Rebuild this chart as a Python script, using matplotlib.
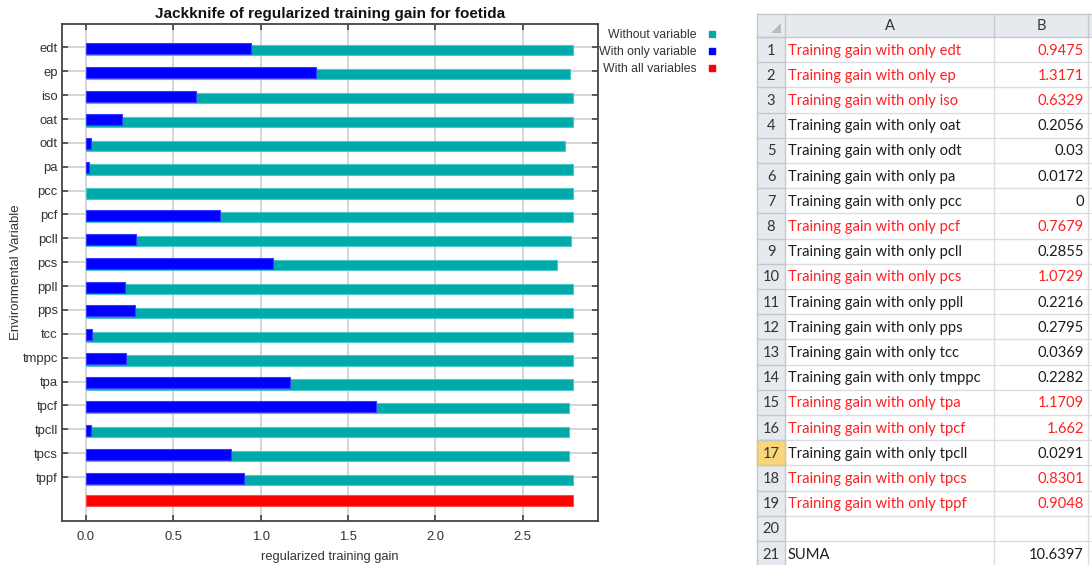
import matplotlib
matplotlib.use("Agg")
import matplotlib.pyplot as plt
from matplotlib.lines import Line2D
from matplotlib.patches import Rectangle, Polygon
import numpy as np

# data
variables = ["edt", "ep", "iso", "oat", "odt", "pa", "pcc", "pcf", "pcll", "pcs",
             "ppll", "pps", "tcc", "tmppc", "tpa", "tpcf", "tpcll", "tpcs", "tppf"]
with_only = [0.9475, 1.3171, 0.6329, 0.2056, 0.03, 0.0172, 0, 0.7679, 0.2855, 1.0729,
             0.2216, 0.2795, 0.0369, 0.2282, 1.1709, 1.662, 0.0291, 0.8301, 0.9048]
without = [2.786, 2.774, 2.786, 2.786, 2.744, 2.786, 2.786, 2.786, 2.780, 2.698,
           2.786, 2.786, 2.786, 2.786, 2.787, 2.765, 2.765, 2.765, 2.787]
all_vars = 2.787
xticks = [0.0, 0.5, 1.0, 1.5, 2.0, 2.5]

TEAL = "#00aaaa"
BLUE = "#0000ff"
RED = "#ff0000"

W, H = 1092, 565
fig = plt.figure(figsize=(W / 100, H / 100), dpi=100)

# ---------- jackknife chart ----------
ax = fig.add_axes([62 / W, 1 - 521 / H, (598 - 62) / W, (521 - 24) / H])
ypos = np.arange(len(variables))
ax.barh(ypos + 0.12, without, height=0.43, color=TEAL, edgecolor="#4cc8c8", lw=0.8, zorder=2)
ax.barh(ypos + 0.04, with_only, height=0.46, color=BLUE, edgecolor="#3a3aff",
        lw=[0.8 if v > 0 else 0 for v in with_only], zorder=3)
ax.barh([len(variables) - 0.01], [all_vars], height=0.45, color=RED, edgecolor="#ff4a4a", lw=0.8, zorder=2)

ax.set_xlim(-0.137, 2.932)
ax.set_ylim(19.84, -0.98)
ax.set_yticks(ypos)
ax.set_yticklabels(variables)
ax.set_xticks(xticks)
ax.set_xticklabels([f"{t:.1f}" for t in xticks])
ax.set_axisbelow(True)
ax.grid(True, color="#d2d2d2", lw=1.3)
ax.tick_params(direction="in", length=4, width=1.2, top=True, right=True,
               labelsize=9.4, labelcolor="#333333", color="#444444")
ax.tick_params(axis="y", pad=3)
ax.tick_params(axis="x", pad=7)
for s in ax.spines.values():
    s.set_color("#444444")
    s.set_linewidth(1.3)
ax.set_title("Jackknife of regularized training gain for foetida", fontsize=11,
             fontweight="bold", color="#111111", pad=4, family="Liberation Sans")
ax.set_xlabel("regularized training gain", fontsize=9.3, color="#333333", labelpad=6)
ax.set_ylabel("Environmental Variable", fontsize=9.5, color="#333333", labelpad=0)
for lab in ax.get_xticklabels() + ax.get_yticklabels():
    lab.set_family("Liberation Sans")
ax.xaxis.label.set_family("Liberation Sans")
ax.yaxis.label.set_family("Liberation Sans")

handles = [Line2D([], [], ls="", marker="s", ms=4.5, color=c, label=l)
           for c, l in [(TEAL, "Without variable"), (BLUE, "With only variable"),
                        (RED, "With all variables")]]
fig.legend(handles=handles, loc="upper right", bbox_to_anchor=(716 / W, 1 - 29 / H),
           markerfirst=False, frameon=False, handlelength=0.6, handletextpad=1.0,
           labelspacing=0.4, prop={"family": "Liberation Sans", "size": 8.8},
           labelcolor="#333333", borderaxespad=0, borderpad=0)

# ---------- spreadsheet ----------
axt = fig.add_axes([0, 0, 1, 1], zorder=-1)
axt.set_xlim(0, W)
axt.set_ylim(H, 0)
axt.axis("off")

x_num, x_a, x_b, x_c = 757, 785, 994, 1088
y_head, y_row1, row_h = 14, 37, 25.2
head_fill = "#e6e9ee"
head_line = "#c3c8cf"
grid_line = "#dadcdd"
sheet_font = "Lato"
sheet_size = 10.6

labels = [f"Training gain with only {v}" for v in variables] + ["", "SUMA"]
values = [f"{v:g}" for v in with_only] + ["", f"{sum(with_only):g}"]
colors = ["#ff1f1f" if v > 0.5 else "#1c1c1c" for v in with_only] + ["#1c1c1c", "#1c1c1c"]
n_rows = len(labels)
y_bottom = H + 5

# header row + row number column
axt.add_patch(Rectangle((x_num, y_head), W - x_num, y_row1 - y_head, fc=head_fill, ec="none"))
axt.add_patch(Rectangle((x_num, y_row1), x_a - x_num, y_bottom - y_row1, fc=head_fill, ec="none"))
axt.add_patch(Polygon([[x_a - 4, y_row1 - 14], [x_a - 4, y_row1 - 4], [x_a - 14, y_row1 - 4]],
                      closed=True, fc="#b8bcc2", ec="none"))
for i in range(n_rows):
    top = y_row1 + i * row_h
    if i == 16:
        axt.add_patch(Rectangle((x_num, top), x_a - x_num, row_h, fc="#f9d67a", ec="#f0b445", lw=1))
    axt.plot([x_num, x_a], [top, top], color=head_line, lw=1)
    axt.plot([x_a, W], [top + row_h, top + row_h], color=grid_line, lw=1)
    axt.text((x_num + x_a) / 2, top + row_h / 2 + 1, str(i + 1), ha="center", va="center",
             fontsize=sheet_size, color="#333333", family=sheet_font)
    axt.text(x_a + 3, top + row_h / 2 + 1, labels[i], ha="left", va="center",
             fontsize=sheet_size, color=colors[i], family=sheet_font)
    axt.text(x_b + 90, top + row_h / 2 + 1, values[i], ha="right", va="center",
             fontsize=sheet_size, color=colors[i], family=sheet_font)
for x in (x_a, x_b, x_c):
    axt.plot([x, x], [y_head, y_row1], color=head_line, lw=1)
    axt.plot([x, x], [y_row1, y_bottom], color=grid_line if x != x_a else head_line, lw=1)
axt.plot([x_num, W], [y_head, y_head], color=head_line, lw=1)
axt.plot([x_num, W], [y_row1, y_row1], color=head_line, lw=1)
axt.plot([x_num, x_num], [y_head, y_bottom], color=head_line, lw=1)
axt.text((x_a + x_b) / 2, (y_head + y_row1) / 2 + 1, "A", ha="center", va="center",
         fontsize=sheet_size, color="#333333", family=sheet_font)
axt.text((x_b + x_c) / 2, (y_head + y_row1) / 2 + 1, "B", ha="center", va="center",
         fontsize=sheet_size, color="#333333", family=sheet_font)

fig.savefig("out.png", dpi=100)
